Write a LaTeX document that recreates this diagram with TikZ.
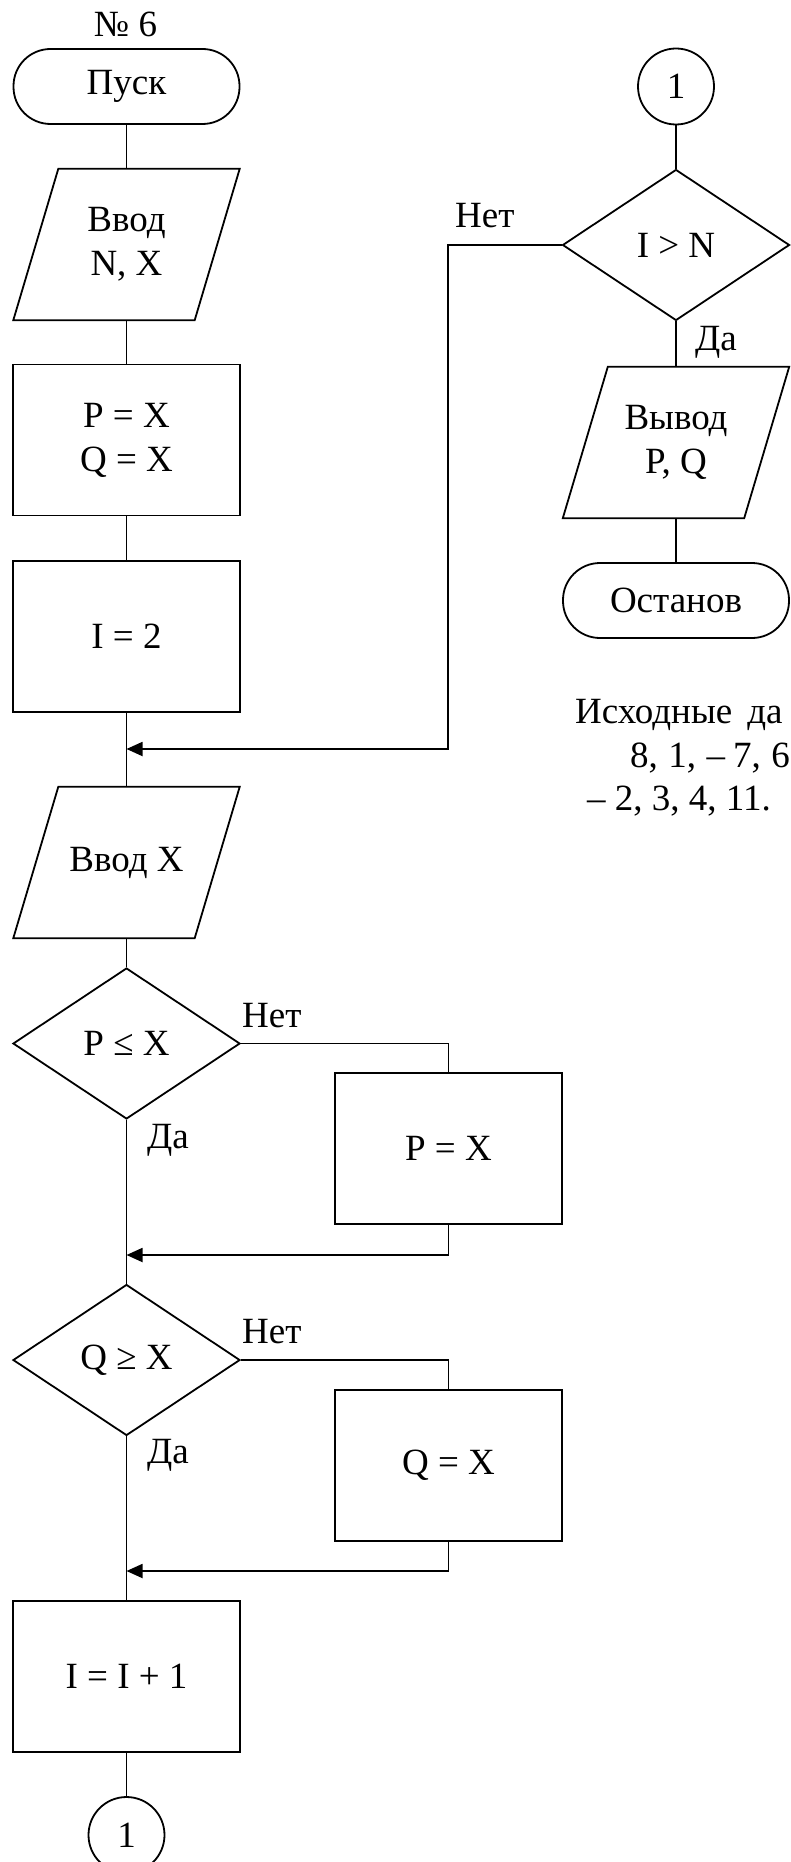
\documentclass[tikz,border=0pt]{standalone}
\usepackage{fontspec}
\setmainfont{Liberation Serif}
\usetikzlibrary{shapes.geometric,arrows.meta}
\begin{document}
\begin{tikzpicture}[x=1pt,y=-1pt,
  every node/.style={font=\fontsize{37}{44}\selectfont},
  shp/.style={draw, line width=1.8pt, inner sep=0pt},
  proc/.style={shp, rectangle, minimum width=227pt, minimum height=151pt, align=center},
  term/.style={shp, rectangle, rounded corners=37pt, minimum width=226pt, minimum height=75pt},
  dec/.style={shp, diamond, minimum width=227pt, minimum height=151pt},
  io/.style={rectangle, inner sep=0pt, minimum width=181pt, minimum height=151pt, align=center},
  conn/.style={shp, circle, minimum size=76pt},
  wire/.style={line width=1.6pt},
  arr/.style={line width=1.8pt, -{Triangle[length=16pt,width=14pt]}},
  lbl/.style={anchor=base west, inner sep=0pt},
  par/.style={line width=1.8pt, line join=miter}]
\useasboundingbox (0,0) rectangle (790,1862);

% left column
\node[anchor=base, inner sep=0pt] (num) at (125.5,37) {№ 6};
\node[term] (start) at (126.5,86.5) {Пуск};
\node[io] (in1) at (126.5,244.5) {Ввод\\N, X};
\draw[par] ([xshift=22.5pt]in1.north west) -- ([xshift=22.5pt]in1.north east) -- ([xshift=-22.5pt]in1.south east) -- ([xshift=-22.5pt]in1.south west) -- cycle;
\node[proc] (init) at (126.5,440) {P = X\\Q = X};
\node[proc] (i2) at (126.5,636.5) {I = 2};
\node[io] (in2) at (126.5,862.5) {Ввод X};
\draw[par] ([xshift=22.5pt]in2.north west) -- ([xshift=22.5pt]in2.north east) -- ([xshift=-22.5pt]in2.south east) -- ([xshift=-22.5pt]in2.south west) -- cycle;
\node[dec] (d1) at (126.5,1043.5) {P ≤ X};
\node[proc] (pb) at (448.5,1148.5) {P = X};
\node[dec] (d2) at (126.5,1360) {Q ≥ X};
\node[proc] (qb) at (448.5,1465.5) {Q = X};
\node[proc] (inc) at (126.5,1676.5) {I = I + 1};
\node[conn] (c1) at (126.5,1835) {1};

% right column
\node[conn] (c2) at (676,86.5) {1};
\node[dec] (dn) at (676,245) {I > N};
\node[io] (out) at (676,442.5) {Вывод\\P, Q};
\draw[par] ([xshift=22.5pt]out.north west) -- ([xshift=22.5pt]out.north east) -- ([xshift=-22.5pt]out.south east) -- ([xshift=-22.5pt]out.south west) -- cycle;
\node[term] (stop) at (676,600.5) {Останов};

\node[lbl] (t1) at (575,723) {Исходные\hspace{15pt}да};
\node[lbl] (t2) at (630,767) {8,\hspace{10.5pt}1,\hspace{10.5pt}–\hspace{8pt}7,\hspace{10.5pt}6};
\node[lbl] (t3) at (587,810) {– 2, 3, 4, 11.};

% connectors
\draw[wire] (start) -- (in1);
\draw[wire] (in1) -- (init);
\draw[wire] (init) -- (i2);
\draw[wire] (i2) -- (in2);
\draw[wire] (in2) -- (d1);
\draw[wire] (d1) -- (d2);
\draw[wire] (d2) -- (inc);
\draw[wire] (inc) -- (c1);
\draw[wire] (d1.east) -| (pb.north);
\coordinate (m1) at (126.5,1255);
\draw[arr] (pb.south) |- (m1);
\draw[wire] (d2.east) -| (qb.north);
\coordinate (m2) at (126.5,1571);
\draw[arr] (qb.south) |- (m2);
\draw[wire] (c2) -- (dn);
\draw[wire] (dn) -- (out);
\draw[wire] (out) -- (stop);
\coordinate (m0) at (126.5,749);
\draw[arr] (dn.west) -- ++(-114,0) |- (m0);

% labels
\node[lbl] (no1) at (242,1027) {Нет};
\node[lbl] (yes1) at (147,1148) {Да};
\node[lbl] (no2) at (242,1343) {Нет};
\node[lbl] (yes2) at (147,1463) {Да};
\node[lbl] (no0) at (455,228) {Нет};
\node[lbl] (yes0) at (695,350) {Да};
\end{tikzpicture}
\end{document}
